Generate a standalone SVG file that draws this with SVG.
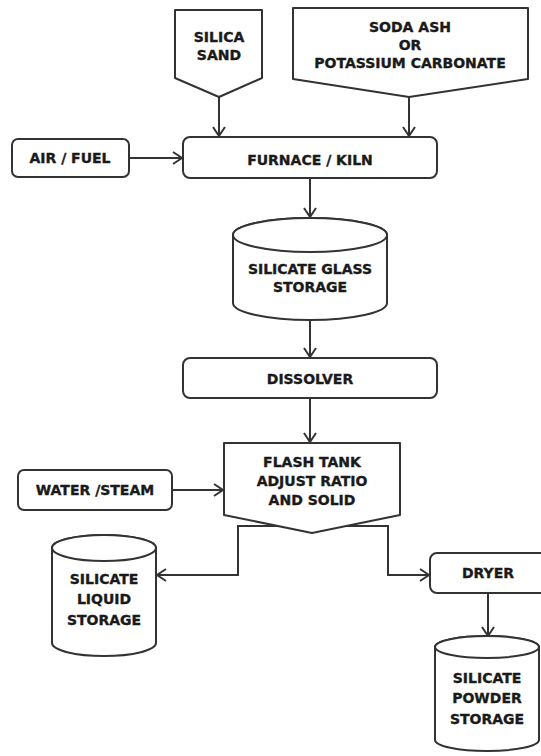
<svg xmlns="http://www.w3.org/2000/svg" width="541" height="756" viewBox="0 0 541 756">
<style>
.s{fill:#fff;stroke:#333;stroke-width:2;stroke-linejoin:round}
.c{fill:none;stroke:#333;stroke-width:2}
text{font-family:"DejaVu Sans","Liberation Sans",sans-serif;font-weight:bold;font-size:14px;fill:#1a1a1a;stroke:#1a1a1a;stroke-width:0.35;text-anchor:middle}
</style>
<defs>
<marker id="a" markerWidth="12" markerHeight="14" refX="10" refY="7" orient="auto" markerUnits="userSpaceOnUse">
<path d="M1,1 L10,7 L1,13" fill="none" stroke="#333" stroke-width="2"/>
</marker>
</defs>
<rect width="541" height="756" fill="#fff"/>
<g id="connectors">
<line class="c" x1="219" y1="97" x2="219" y2="136" marker-end="url(#a)"/>
<line class="c" x1="409" y1="97" x2="409" y2="136" marker-end="url(#a)"/>
<line class="c" x1="129" y1="158" x2="182" y2="158" marker-end="url(#a)"/>
<line class="c" x1="310" y1="178" x2="310" y2="217" marker-end="url(#a)"/>
<line class="c" x1="310" y1="320" x2="310" y2="357" marker-end="url(#a)"/>
<line class="c" x1="310" y1="398" x2="310" y2="442" marker-end="url(#a)"/>
<line class="c" x1="172" y1="490" x2="223" y2="490" marker-end="url(#a)"/>
<polyline class="c" points="312,526 238,526 238,575 157,575" marker-end="url(#a)"/>
<polyline class="c" points="312,526 388,526 388,575 429,575" marker-end="url(#a)"/>
<line class="c" x1="488" y1="593" x2="488" y2="636" marker-end="url(#a)"/>
</g>
<g id="silica-sand">
<polygon class="s" points="175,10 262,10 262,78 219,97 175,78"/>
<text x="219" y="42">SILICA</text>
<text x="219" y="60">SAND</text>
</g>
<g id="soda-ash">
<polygon class="s" points="293,8 528,8 528,79 409,97 293,79"/>
<text x="410" y="32">SODA ASH</text>
<text x="410" y="50">OR</text>
<text x="410" y="68">POTASSIUM CARBONATE</text>
</g>
<g id="air-fuel">
<rect class="s" x="12" y="139" width="117" height="38" rx="6"/>
<text x="70" y="163">AIR / FUEL</text>
</g>
<g id="furnace">
<rect class="s" x="183" y="137" width="254" height="41" rx="7"/>
<text x="310" y="165">FURNACE / KILN</text>
</g>
<g id="glass-storage">
<path class="s" d="M233,235 A77,17 0 0 1 387,235 V303 A77,17 0 0 1 233,303 Z"/>
<ellipse class="s" cx="310" cy="235" rx="77" ry="17"/>
<text x="310" y="274">SILICATE GLASS</text>
<text x="310" y="292">STORAGE</text>
</g>
<g id="dissolver">
<rect class="s" x="183" y="358" width="254" height="40" rx="7"/>
<text x="310" y="384">DISSOLVER</text>
</g>
<g id="water-steam">
<rect class="s" x="18" y="470" width="154" height="40" rx="6"/>
<text x="95" y="495">WATER /STEAM</text>
</g>
<g id="flash-tank">
<polygon class="s" points="224,443 400,443 400,515 312,533 224,515"/>
<text x="312" y="467">FLASH TANK</text>
<text x="312" y="486">ADJUST RATIO</text>
<text x="312" y="505">AND SOLID</text>
</g>
<g id="liquid-storage">
<path class="s" d="M52,548 A52,13 0 0 1 156,548 V643 A52,13 0 0 1 52,643 Z"/>
<ellipse class="s" cx="104" cy="548" rx="52" ry="13"/>
<text x="104" y="584">SILICATE</text>
<text x="104" y="604">LIQUID</text>
<text x="104" y="625">STORAGE</text>
</g>
<g id="dryer">
<rect class="s" x="430" y="553" width="118" height="40" rx="7"/>
<text x="488" y="578">DRYER</text>
</g>
<g id="powder-storage">
<path class="s" d="M435,647 A52,11 0 0 1 539,647 V740 A52,11 0 0 1 435,740 Z"/>
<ellipse class="s" cx="487" cy="647" rx="52" ry="11"/>
<text x="487" y="683">SILICATE</text>
<text x="487" y="703">POWDER</text>
<text x="487" y="724">STORAGE</text>
</g>
</svg>
